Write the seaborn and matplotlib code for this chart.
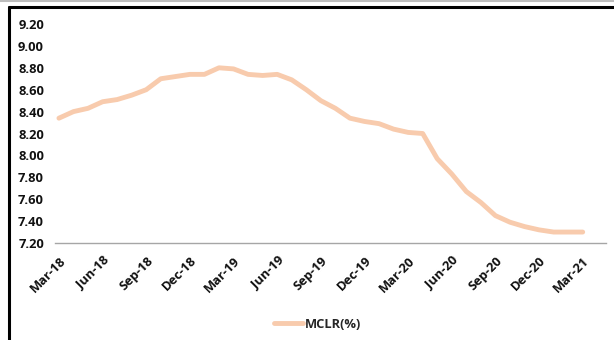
import matplotlib
matplotlib.use("Agg")
import matplotlib.pyplot as plt
from matplotlib.lines import Line2D
import seaborn as sns
import pandas as pd

# Monthly MCLR (%), Mar-18 .. Mar-21
months = ["Mar-18", "Apr-18", "May-18", "Jun-18", "Jul-18", "Aug-18", "Sep-18", "Oct-18",
          "Nov-18", "Dec-18", "Jan-19", "Feb-19", "Mar-19", "Apr-19", "May-19", "Jun-19",
          "Jul-19", "Aug-19", "Sep-19", "Oct-19", "Nov-19", "Dec-19", "Jan-20", "Feb-20",
          "Mar-20", "Apr-20", "May-20", "Jun-20", "Jul-20", "Aug-20", "Sep-20", "Oct-20",
          "Nov-20", "Dec-20", "Jan-21", "Feb-21", "Mar-21"]
mclr = [8.34, 8.40, 8.43, 8.49, 8.51, 8.55, 8.60, 8.70,
        8.72, 8.74, 8.74, 8.80, 8.79, 8.74, 8.73, 8.74,
        8.69, 8.60, 8.50, 8.43, 8.34, 8.31, 8.29, 8.24,
        8.21, 8.20, 7.97, 7.83, 7.67, 7.57, 7.45, 7.39,
        7.35, 7.32, 7.30, 7.30, 7.30]
tick_labels = months[::3]
y_ticks = [7.20, 7.40, 7.60, 7.80, 8.00, 8.20, 8.40, 8.60, 8.80, 9.00, 9.20]

df = pd.DataFrame({"idx": range(len(months)), "month": months, "MCLR(%)": mclr})

sns.set_theme(style="white")
FONT = ["Open Sans", "DejaVu Sans"]
plt.rcParams["font.family"] = FONT

fig = plt.figure(figsize=(6.14, 3.40), dpi=100)
ax = fig.add_axes([55 / 614, 1 - 243 / 340, (606 - 55) / 614, (243 - 24) / 340])

line_color = "#F8CBAD"
sns.lineplot(data=df, x="idx", y="MCLR(%)", ax=ax, color=line_color, linewidth=3.5,
             solid_capstyle="round", solid_joinstyle="round")

ax.set_xlim(-0.27, 37.6)
ax.set_ylim(7.2, 9.2)
ax.set_yticks(y_ticks)
ax.set_yticklabels([f"{v:.2f}" for v in y_ticks], fontsize=9.3, fontweight="bold",
                   color="#111111")
ax.set_xticks(list(range(0, len(months), 3)))
ax.set_xticklabels(tick_labels, rotation=45, ha="right", rotation_mode="anchor",
                   fontsize=9.3, fontweight="bold", color="#111111")
ax.tick_params(axis="both", length=0)
ax.tick_params(axis="y", pad=8)
ax.tick_params(axis="x", pad=8)
ax.set_xlabel("")
ax.set_ylabel("")
for side in ["top", "right", "left"]:
    ax.spines[side].set_visible(False)
ax.spines["bottom"].set_color("#a6a6a6")
ax.spines["bottom"].set_linewidth(1.0)

# Legend below the axes
handle = Line2D([], [], color=line_color, linewidth=3.5)
fig.legend([handle], ["MCLR(%)"], loc="center", bbox_to_anchor=(318 / 614, 1 - 324 / 340),
           frameon=False, prop={"family": FONT, "weight": "bold", "size": 9.3},
           handlelength=2.2, handletextpad=0.2)

# Outer frame
W, H = 614, 340
fig.add_artist(Line2D([0, 1], [1 - 0.8 / H, 1 - 0.8 / H], transform=fig.transFigure,
                      color="#bdbdbd", linewidth=1.5))
fig.add_artist(Line2D([9 / W, 1], [1 - 7 / H, 1 - 7 / H], transform=fig.transFigure,
                      color="black", linewidth=2.2))
fig.add_artist(Line2D([9 / W, 9 / W], [1 - 7 / H, 0], transform=fig.transFigure,
                      color="black", linewidth=2.2))

fig.savefig("out.png", dpi=100, facecolor="white")
